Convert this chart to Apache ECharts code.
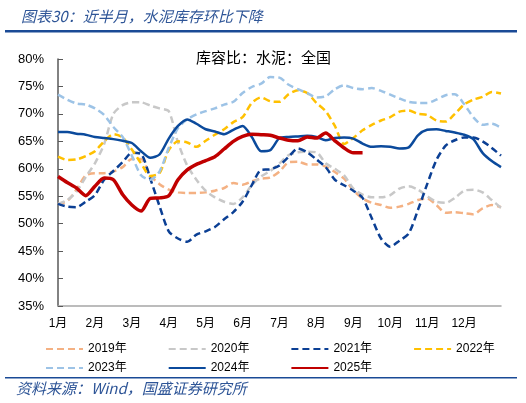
<!DOCTYPE html>
<html>
<head>
<meta charset="utf-8">
<script src="https://cdn.jsdelivr.net/npm/echarts@6/dist/echarts.min.js"></script>
<style>
html,body{margin:0;padding:0;background:#fff;}
#c{width:526px;height:403px;}
</style>
</head>
<body>
<div id="c"></div>
<script>
// ---- data ----
var monthLabels = ['1月','2月','3月','4月','5月','6月','7月','8月','9月','10月','11月','12月'];
var slotsPerMonth = 4;
var yTickLabels = ['35%','40%','45%','50%','55%','60%','65%','70%','75%','80%'];
var seriesNames = ['2019年','2020年','2021年','2022年','2023年','2024年','2025年'];

var y2019 = [53.6,54.1,56.2,58.8,59.2,59.2,59.5,60.3,61.8,61.8,58.8,57.2,56.2,55.7,55.6,55.6,55.7,56.0,56.5,57.4,57.1,57.7,58.2,58.4,59.5,61.2,61.3,60.8,60.8,60.4,59.4,58.2,56.1,54.6,53.8,53.4,52.9,53.1,53.6,54.3,54.6,53.4,52.0,52.1,51.9,51.7,52.8,53.4,53.0];
var y2020 = [53.6,54.3,55.8,58.5,61.0,64.5,70.0,71.6,72.1,72.1,71.5,71.0,70.5,64.8,60.6,58.0,56.0,54.8,54.0,53.6,54.8,57.0,58.6,59.6,61.0,62.5,63.0,63.1,63.0,61.0,60.0,58.8,56.4,55.3,54.8,54.8,55.2,56.4,56.8,56.2,55.0,54.0,53.8,54.7,56.0,56.2,55.7,54.3,52.9];
var y2021 = [53.6,53.1,53.0,54.0,55.2,58.0,59.6,61.2,62.9,62.7,58.2,53.2,48.6,47.3,46.7,48.0,48.6,49.4,50.8,52.1,54.0,57.0,59.8,59.9,60.6,62.2,63.7,63.0,61.7,60.3,58.0,57.0,56.0,54.7,51.0,47.3,45.8,46.9,48.2,52.5,57.2,61.6,64.2,65.2,65.7,65.7,65.0,63.8,62.4];
var y2022 = [62.2,61.6,61.7,62.3,63.2,65.0,66.3,65.7,63.5,61.0,58.7,59.2,63.4,65.0,64.8,64.0,65.1,66.2,67.2,68.5,69.4,72.0,73.0,72.3,72.2,73.6,74.3,73.8,72.0,70.5,67.8,64.5,65.6,67.0,68.0,68.8,69.4,70.4,70.6,70.0,69.8,68.8,68.6,70.0,71.7,72.6,73.1,74.0,73.7];
var y2023 = [73.5,72.6,71.9,71.7,71.0,69.8,67.6,65.8,62.4,58.8,58.0,59.5,63.8,67.4,69.0,69.9,70.5,71.0,71.7,72.2,73.8,74.9,75.5,76.7,76.6,75.3,74.5,73.8,73.0,73.2,74.5,75.2,74.7,74.5,74.7,74.2,73.5,72.8,72.2,72.0,72.0,72.6,73.4,73.6,71.8,69.4,68.0,68.2,67.5];
var y2024 = [66.7,66.7,66.4,66.2,65.8,65.6,65.4,65.1,64.7,63.2,62.0,62.6,65.5,67.8,69.0,68.2,67.2,66.8,66.3,67.1,67.8,65.8,63.2,63.4,65.6,65.8,65.9,66.0,65.8,65.2,65.6,65.7,65.5,64.6,64.0,64.1,64.0,63.7,63.9,66.1,67.1,67.2,66.9,66.6,66.2,65.4,62.9,61.4,60.3];
var y2025 = [58.6,57.5,56.5,55.1,56.8,58.3,58.0,55.3,53.4,52.3,54.6,54.7,55.1,58.0,59.8,60.8,61.5,62.2,63.6,65.0,65.9,66.3,66.2,66.1,65.6,65.2,65.1,65.8,65.6,66.5,65.1,63.8,62.9,62.9];

// ---- build ----
var slots = [];
for (var m = 0; m < monthLabels.length; m++) {
  for (var k = 0; k < slotsPerMonth; k++) slots.push(k === 0 ? monthLabels[m] : '');
}
slots.push('');

var colors = ['#F4B183','#C8C8C8','#0B3F94','#FFC000','#9DC3E6','#0B4A9C','#C00000'];
var lineTypes = [[7,4],[7,4],[7,4],[7,4],[7,4],'solid','solid'];
var widths = [2.5,2.5,2.5,2.5,2.5,2.5,3.5];
var values = [y2019,y2020,y2021,y2022,y2023,y2024,y2025];

var series = seriesNames.map(function(n,i){
  return {
    name: n, type: 'line', data: values[i], symbol: 'none', smooth: 0.25,
    lineStyle: {color: colors[i], width: widths[i], type: lineTypes[i]},
    itemStyle: {color: colors[i]},
    z: 2 + i
  };
});

var font = 'Liberation Sans, Noto Sans CJK SC, sans-serif';
var legendCommon = {
  left: 40, itemWidth: 37, itemHeight: 12, itemGap: 41,
  itemStyle: {color: 'rgba(0,0,0,0)', borderColor: 'rgba(0,0,0,0)', borderWidth: 0},
  textStyle: {fontSize: 12, color: '#000', fontFamily: font}
};
var chart = echarts.init(document.getElementById('c'));
chart.setOption({
  animation: false,
  backgroundColor: '#fff',
  title: [
    {text: '图表30：近半月，水泥库存环比下降', left: 16, top: 4,
     textStyle: {color: '#2E5597', fontSize: 15, fontWeight: 'normal', fontStyle: 'italic', fontFamily: 'Noto Sans CJK SC, sans-serif'}},
    {text: '库容比：水泥：全国', left: 191, top: 45,
     textStyle: {color: '#000', fontSize: 15, fontWeight: 'normal', fontFamily: 'Noto Sans CJK SC, sans-serif'}}
  ],
  graphic: [
    {type: 'rect', shape: {x: 5, y: 30, width: 512, height: 2.5}, style: {fill: '#1A4A96'}},
    {type: 'rect', shape: {x: 5, y: 377, width: 512, height: 1.5}, style: {fill: '#1A4A96'}},
    {type: 'text', left: 16, top: 381, style: {text: '资料来源：Wind，国盛证券研究所', fill: '#2E5597', fontSize: 15, fontStyle: 'italic', fontFamily: 'Noto Sans CJK SC, sans-serif'}}
  ],
  legend: [
    Object.assign({data: seriesNames.slice(0,4), top: 338}, legendCommon),
    Object.assign({data: seriesNames.slice(4), top: 357}, legendCommon)
  ],
  grid: {left: 58, right: 25, top: 59, bottom: 97},
  xAxis: {
    type: 'category', data: slots, boundaryGap: false,
    axisLine: {lineStyle: {color: '#A6A6A6', width: 1.5}},
    axisTick: {show: false},
    axisLabel: {interval: 0, color: '#000', fontSize: 12, margin: 12, fontFamily: font}
  },
  yAxis: {
    type: 'value', min: 35, max: 80, interval: 5,
    axisLine: {show: true, lineStyle: {color: '#595959', width: 1.5}},
    axisTick: {show: true, inside: true, length: 5, lineStyle: {color: '#595959'}},
    splitLine: {show: false},
    axisLabel: {color: '#000', fontSize: 13, margin: 14, fontFamily: font,
      formatter: function(v){ return yTickLabels[Math.round((v-35)/5)]; }}
  },
  series: series
});
</script>
</body>
</html>
